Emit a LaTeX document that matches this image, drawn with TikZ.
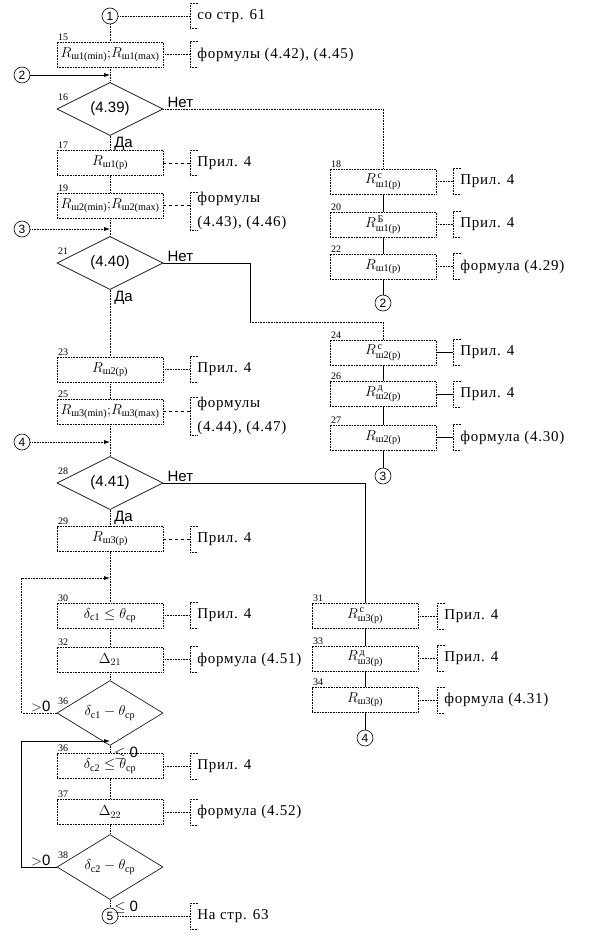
\documentclass[tikz,border=0pt]{standalone}
\usepackage{amsmath}
\usepackage{fontspec}
\setmainfont{Liberation Serif}
\newfontfamily\sansf{Liberation Sans}
\newfontfamily\notef[LetterSpace=5]{Liberation Serif}
\usetikzlibrary{shapes.geometric,arrows.meta}

\newcommand\rsub[2]{R^{\,\smash[b]{\text{#1}}}_{\smash[t]{\text{#2}}}}

\tikzset{
  blk/.style={draw, densely dotted, minimum width=106pt, minimum height=25pt, inner sep=0pt, font=\fontsize{14.5}{16}\selectfont},
  cond/.style={draw, solid, diamond, minimum width=106pt, minimum height=50pt, inner sep=0pt, font=\sansf\fontsize{15}{17}\selectfont},
  con/.style={draw, solid, circle, minimum size=16pt, inner sep=0pt, font=\sansf\fontsize{12}{12}\selectfont},
  note/.style={anchor=west, inner xsep=7pt, inner ysep=0pt, minimum height=25pt, align=left, font=\notef\fontsize{15}{24}\selectfont},
  num/.style={font=\fontsize{10}{10}\selectfont, inner sep=1pt, anchor=south west},
  word/.style={font=\sansf\fontsize{15}{15}\selectfont, inner sep=1pt},
  flow/.style={densely dotted},
  arr/.style={-{Latex[length=6pt,width=4pt]}}
}

\begin{document}
\begin{tikzpicture}[x=1pt, y=-1pt, line width=0.6pt]
  \useasboundingbox (0,0) rectangle (590,936);

  % main column
  \node[con] (c1) at (110,16) {1};
  \node[blk, label={[num]north west:15}] (b15) at (110,54.5) {$R_{\text{ш1(min)}};\!R_{\text{ш1(max)}}$};
  \node[con] (c2) at (22,75) {2};
  \coordinate (j2) at (110,75);
  \node[cond, label={[num,yshift=7pt]west:16}] (d16) at (110,109) {(4.39)};
  \node[blk, label={[num]north west:17}] (b17) at (110,163) {$R_{\text{ш1(р)}}$};
  \node[blk, label={[num]north west:19}] (b19) at (110,205.5) {$R_{\text{ш2(min)}};\!R_{\text{ш2(max)}}$};
  \node[con] (c3) at (22,229) {3};
  \coordinate (j3) at (110,229);
  \node[cond, label={[num,yshift=7pt]west:21}] (d21) at (110,263) {(4.40)};
  \node[blk, label={[num]north west:23}] (b23) at (110,369.5) {$R_{\text{ш2(р)}}$};
  \node[blk, label={[num]north west:25}] (b25) at (110,411.5) {$R_{\text{ш3(min)}};\!R_{\text{ш3(max)}}$};
  \node[con] (c4) at (22,442) {4};
  \coordinate (j4) at (110,442);
  \node[cond, label={[num,yshift=7pt]west:28}] (d28) at (110,483) {(4.41)};
  \node[blk, label={[num]north west:29}] (b29) at (110,539) {$R_{\text{ш3(р)}}$};
  \coordinate (j30) at (110,578);
  \node[blk, label={[num]north west:30}] (b30) at (110,615.5) {$\delta_{\text{с1}}\le\theta_{\text{ср}}$};
  \node[blk, label={[num]north west:32}] (b32) at (110,659.5) {$\Delta_{21}$};
  \node[cond, font=\fontsize{14.5}{16}\selectfont, label={[num,yshift=7pt]west:36}] (d36) at (110,713) {$\delta_{\text{с1}}-\theta_{\text{ср}}$};
  \coordinate (j36) at (110,741);
  \node[blk, label={[num]north west:36}] (b36) at (110,766) {$\delta_{\text{с2}}\le\theta_{\text{ср}}$};
  \node[blk, label={[num]north west:37}] (b37) at (110,812) {$\Delta_{22}$};
  \node[cond, font=\fontsize{14.5}{16}\selectfont, label={[num,yshift=7pt]west:38}] (d38) at (110,867) {$\delta_{\text{с2}}-\theta_{\text{ср}}$};
  \node[con] (c5) at (110,916) {5};

  % right columns
  \node[blk, label={[num]north west:18}] (b18) at (383,181.5) {$\rsub{с}{ш1(р)}$};
  \node[blk, label={[num]north west:20}] (b20) at (383,224.5) {$\rsub{Б}{ш1(р)}$};
  \node[blk, label={[num]north west:22}] (b22) at (383,266.5) {$R_{\text{ш1(р)}}$};
  \node[con] (c2r) at (383,303) {2};
  \coordinate (t21) at (250,322);
  \node[blk, label={[num]north west:24}] (b24) at (383,352.5) {$\rsub{с}{ш2(р)}$};
  \node[blk, label={[num]north west:26}] (b26) at (383,394) {$\rsub{д}{ш2(р)}$};
  \node[blk, label={[num]north west:27}] (b27) at (383,437.5) {$R_{\text{ш2(р)}}$};
  \node[con] (c3r) at (383,476) {3};
  \node[blk, label={[num]north west:31}] (b31) at (365,616) {$\rsub{с}{ш3(р)}$};
  \node[blk, label={[num]north west:33}] (b33) at (365,658.5) {$\rsub{д}{ш3(р)}$};
  \node[blk, label={[num]north west:34}] (b34) at (365,700) {$R_{\text{ш3(р)}}$};
  \node[con] (c4r) at (365,738) {4};

  % notes
  \node[note] (n1) at (190,16) {со стр. 61};
  \node[note] (n15) at (190,54.5) {формулы (4.42), (4.45)};
  \node[note] (n17) at (190,163) {Прил. 4};
  \node[note] (n19) at (190,211) {формулы\\(4.43), (4.46)};
  \node[note] (n23) at (190,369.5) {Прил. 4};
  \node[note] (n25) at (190,416) {формулы\\(4.44), (4.47)};
  \node[note] (n29) at (190,539) {Прил. 4};
  \node[note] (n30) at (190,615.5) {Прил. 4};
  \node[note] (n32) at (190,659.5) {формула (4.51)};
  \node[note] (n36) at (190,766) {Прил. 4};
  \node[note] (n37) at (190,812) {формула (4.52)};
  \node[note] (n5) at (190,916) {На стр. 63};
  \node[note] (n18) at (453,181.5) {Прил. 4};
  \node[note] (n20) at (453,224.5) {Прил. 4};
  \node[note] (n22) at (453,266.5) {формула (4.29)};
  \node[note] (n24) at (453,352.5) {Прил. 4};
  \node[note] (n26) at (453,394) {Прил. 4};
  \node[note] (n27) at (453,437.5) {формула (4.30)};
  \node[note] (n31) at (437,616) {Прил. 4};
  \node[note] (n33) at (437,658.5) {Прил. 4};
  \node[note] (n34) at (437,700) {формула (4.31)};
  \foreach \n in {n1,n15,n17,n19,n23,n25,n29,n30,n32,n36,n37,n5,n18,n20,n22,n24,n26,n27,n31,n33,n34}
    \draw[densely dotted] ([xshift=8pt]\n.north west) -- (\n.north west) -- (\n.south west) -- ([xshift=8pt]\n.south west);

  % links to notes
  \draw[flow] (c1) -- (n1.west);
  \draw[flow] (b15) -- (n15.west);
  \draw[dashed] (b17) -- (n17.west);
  \draw[dashed] (b19) -- (b19.east -| n19.west);
  \draw[flow] (b23) -- (n23.west);
  \draw[dashed] (b25) -- (b25.east -| n25.west);
  \draw[dashed] (b29) -- (n29.west);
  \draw[flow] (b30) -- (n30.west);
  \draw[flow] (b32) -- (n32.west);
  \draw[flow] (b36) -- (n36.west);
  \draw[flow] (b37) -- (n37.west);
  \draw[flow] (c5) -- (n5.west);
  \draw[flow] (b18) -- (n18.west);
  \draw[flow] (b20) -- (n20.west);
  \draw[flow] (b22) -- (n22.west);
  \draw (b24) -- (n24.west);
  \draw (b26) -- (n26.west);
  \draw (b27) -- (n27.west);
  \draw[flow] (b31) -- (n31.west);
  \draw[flow] (b33) -- (n33.west);
  \draw[flow] (b34) -- (n34.west);

  % flow lines
  \draw[flow] (c1) -- (b15) -- (d16) -- (b17) -- (b19) -- (d21) -- (b23) -- (b25) -- (d28) -- (b29) -- (b30) -- (b32) -- (d36) -- (b36) -- (b37) -- (d38) -- (c5);
  \draw[arr] (c2) -- (j2);
  \draw[flow,arr] (c3) -- (j3);
  \draw[flow,arr] (c4) -- (j4);
  \draw[flow] (d16.east) -| (b18.north);
  \draw (d21.east) -| (t21);
  \draw[flow] (t21) -| (b24.north);
  \draw (d28.east) -| (b31.north);
  \draw (b18) -- (b20) -- (b22) -- (c2r);
  \draw (b24) -- (b26) -- (b27) -- (c3r);
  \draw (b31) -- (b33) -- (b34) -- (c4r);
  \draw[flow,arr] (d36.west) -- ++(-35,0) |- (j30);
  \draw[arr] (d38.west) -- ++(-35,0) |- (j36);

  % branch words
  \node[word, anchor=south west] (no16) at ([xshift=3pt]d16.east) {Нет};
  \node[word, anchor=north west] (yes16) at ([xshift=3pt]d16.south) {Да};
  \node[word, anchor=south west] (no21) at ([xshift=3pt]d21.east) {Нет};
  \node[word, anchor=north west] (yes21) at ([xshift=3pt]d21.south) {Да};
  \node[word, anchor=south west] (no28) at ([xshift=3pt]d28.east) {Нет};
  \node[word, anchor=north west] (yes28) at ([xshift=3pt]d28.south) {Да};
  \node[word, anchor=south east] (gt36) at ([xshift=-5pt]d36.west) {$>$0};
  \node[word, anchor=north west] (le36) at ([xshift=3pt]d36.south) {$\le$ 0};
  \node[word, anchor=south east] (gt38) at ([xshift=-5pt]d38.west) {$>$0};
  \node[word, anchor=north west] (le38) at ([xshift=3pt]d38.south) {$\le$ 0};
\end{tikzpicture}
\end{document}
